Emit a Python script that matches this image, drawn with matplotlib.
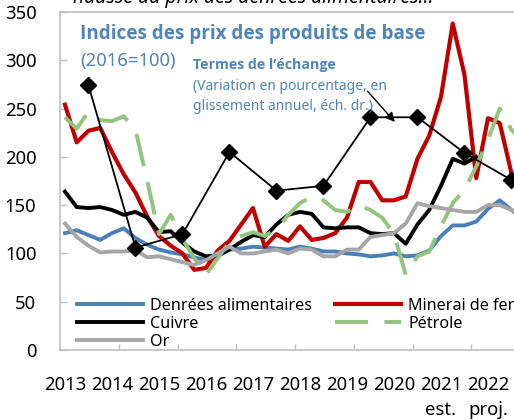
import numpy as np
import matplotlib.pyplot as plt

plt.rcParams['font.family'] = ['Noto Sans', 'DejaVu Sans']

# quarterly indices, 2016 = 100, 2013Q1 .. 2022Q4
quarters = 2013 + np.arange(40) / 4
food = [121, 124, 119, 114, 121, 126, 116, 109, 104, 101, 99, 96, 93, 97, 104, 105,
        107, 106, 105, 104, 107, 105, 102, 102, 100, 99, 97, 98, 100, 97, 98, 103,
        118, 129, 129, 133, 146, 155, 145, 136]
iron = [254, 215, 227, 230, 205, 182, 163, 138, 118, 108, 100, 83, 85, 103, 113, 130,
        147, 107, 120, 113, 128, 114, 116, 121, 137, 174, 174, 155, 155, 159, 198, 222,
        262, 338, 285, 178, 240, 235, 183, 172]
copper = [164, 148, 147, 148, 145, 140, 143, 137, 122, 123, 111, 102, 97, 98, 104, 112,
          119, 117, 130, 140, 143, 141, 127, 126, 127, 127, 121, 120, 121, 110, 130, 145,
          170, 198, 193, 200, np.nan, np.nan, np.nan, np.nan]
oil = [241, 229, 247, 238, 237, 242, 228, 175, 120, 140, 115, 95, 78, 95, 112, 118,
       122, 118, 125, 140, 152, 159, 155, 145, 143, 150, 145, 137, 120, 78, 97, 102,
       128, 152, 166, 190, 218, 250, 228, 215]
gold = [131, 117, 108, 101, 102, 102, 103, 96, 97, 94, 91, 88, 93, 100, 107, 100,
        100, 102, 104, 100, 105, 104, 97, 97, 104, 104, 117, 119, 121, 131, 152, 149,
        147, 145, 143, 143, 150, 150, 145, 140]

# terms of trade, annual (right scale)
tot_years = np.arange(2013, 2023) + 0.5
tot = [274, 106, 120, 205, 165, 170, 241, 241, 204, 176]

year_labels = [str(y) for y in range(2013, 2023)]

blue = '#4a80b6'
txtblue = '#5085b8'
spine = '#bfbfbf'
boldfont = ['Open Sans', 'DejaVu Sans']

fig = plt.figure(figsize=(5.14, 4.2), dpi=100)
ax = fig.add_axes([60 / 514, 70 / 420, 470 / 514, 338 / 420])

x0, x1 = 2012.894, 2022.894
l_food, = ax.plot(quarters, food, color=blue, lw=2.8, label='Denrées alimentaires', zorder=3)
l_iron, = ax.plot(quarters, iron, color='#c00000', lw=3.0, label='Minerai de fer', zorder=3)
l_cu, = ax.plot(quarters, copper, color='black', lw=2.8, label='Cuivre', zorder=4)
l_oil, = ax.plot(quarters, oil, color='#93c47d', lw=2.8, dashes=(8.5, 4.2), label='Pétrole', zorder=4)
l_gold, = ax.plot(quarters, gold, color='#a6a6a8', lw=2.8, label='Or', zorder=4)

ax.set_xlim(x0, x1)
ax.set_ylim(0, 350)
ax.set_yticks(range(0, 351, 50))
ax.tick_params(axis='y', direction='in', length=5, width=1, color=spine,
               labelsize=13.3, pad=17)
ax.set_xticks([x0 + k * (x1 - x0) / 8 for k in range(1, 8)])
ax.set_xticklabels([])
ax.tick_params(axis='x', direction='in', length=4, width=1, color=spine)
ax.set_xticks(range(2013, 2023), year_labels, minor=True)
ax.tick_params(axis='x', which='minor', length=0, labelsize=13.3, pad=19)
for s in ['left', 'bottom', 'top']:
    ax.spines[s].set_color(spine)
    ax.spines[s].set_linewidth(1.2)
ax.spines['right'].set_visible(False)

ax.text(2021, -0.178, 'est.', transform=ax.get_xaxis_transform(), ha='center',
        va='center', fontsize=13.3)
ax.text(2022, -0.178, 'proj.', transform=ax.get_xaxis_transform(), ha='center',
        va='center', fontsize=13.3)

ax.legend(handles=[l_food, l_cu, l_gold, l_iron, l_oil], ncol=2, loc='lower left',
          bbox_to_anchor=(17 / 470, 0.0), frameon=False,
          fontsize=11.6, handlelength=4.1, handletextpad=0.45, columnspacing=1.4,
          labelspacing=0.12, borderpad=0, borderaxespad=0)

ax2 = ax.twinx()
ax2.set_ylim(0, 350)
ax2.plot(tot_years, tot, color='black', lw=1.3, marker='D', ms=8.5, zorder=5)
ax2.set_yticks([])
for s in ax2.spines.values():
    s.set_visible(False)
ax2.annotate('', xy=(2020.06, 234), xytext=(2019.4, 270),
             arrowprops=dict(arrowstyle='-|>', color='black', lw=1, mutation_scale=14))

fig.text(80 / 514, 1 - 34 / 420, 'Indices des prix des produits de base', color=txtblue,
         fontsize=13.6, fontweight='bold', family=boldfont, va='center')
fig.text(80 / 514, 1 - 61 / 420, '(2016=100)', color=txtblue, fontsize=13.3, va='center')
fig.text(193 / 514, 1 - 65 / 420, 'Termes de l\u2019échange', color=txtblue,
         fontsize=10.2, fontweight='bold', family=boldfont, va='center')
fig.text(193 / 514, 1 - 86 / 420, '(Variation en pourcentage, en', color=txtblue,
         fontsize=10, va='center')
fig.text(193 / 514, 1 - 106 / 420, 'glissement annuel, éch. dr.)', color=txtblue,
         fontsize=10, va='center')
fig.text(73 / 514, 1 - 3 / 420, 'hausse du prix des denrées alimentaires...',
         fontsize=14, style='italic', va='baseline')

fig.savefig('out.png', dpi=100)
